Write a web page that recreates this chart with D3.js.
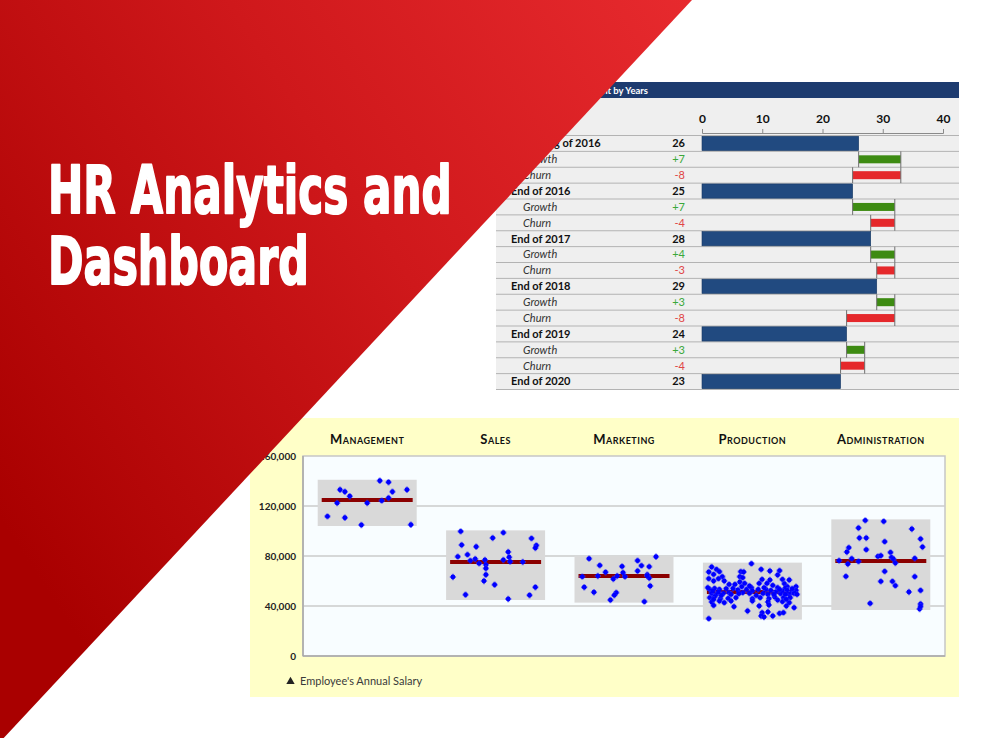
<!DOCTYPE html>
<html>
<head>
<meta charset="utf-8">
<script src="https://cdn.jsdelivr.net/npm/d3@7"></script>
<style>
  html, body { margin: 0; padding: 0; background: #fff; }
  svg { display: block; }
</style>
</head>
<body>
<svg id="slide" width="984" height="738"></svg>
<script>
// waterfall: headcount by years
const wfLabels = ["Beginning of 2016", "Growth", "Churn", "End of 2016", "Growth", "Churn",
  "End of 2017", "Growth", "Churn", "End of 2018", "Growth", "Churn",
  "End of 2019", "Growth", "Churn", "End of 2020"];
const wfValues = [26, 7, -8, 25, 7, -4, 28, 4, -3, 29, 3, -8, 24, 3, -4, 23];
const wfKinds = ["total", "growth", "churn", "total", "growth", "churn", "total", "growth", "churn",
  "total", "growth", "churn", "total", "growth", "churn", "total"];
const wfTicks = [0, 10, 20, 30, 40];

// salary strip chart: [jitter 0..1 inside the band, annual salary]
const departments = ["Management", "Sales", "Marketing", "Production", "Administration"];
const medians = [124800, 75200, 64000, 51200, 76000];
const salaryTicks = [0, 40000, 80000, 120000, 160000];

const management = [[0.63,140200],[0.72,139000],[0.22,133000],[0.27,131400],[0.32,127800],[0.76,131400],
  [0.91,133000],[0.72,126400],[0.65,124300],[0.19,122400],[0.50,122400],[0.09,111700],[0.27,110600],
  [0.44,104800],[0.95,105000]];
const sales = [[0.14,99700],[0.58,98700],[0.47,94400],[0.87,94100],[0.15,88800],[0.30,87400],[0.92,88500],
  [0.91,86400],[0.63,83200],[0.21,81100],[0.11,79500],[0.64,79000],[0.29,77600],[0.24,76300],[0.58,76800],
  [0.39,76800],[0.65,75500],[0.78,75200],[0.33,74100],[0.40,73000],[0.40,70100],[0.40,65000],[0.06,63200],
  [0.38,60000],[0.49,57000],[0.91,55000],[0.19,49000],[0.85,48600],[0.63,45600]];
const marketing = [[0.83,79400],[0.14,77900],[0.64,76300],[0.25,72500],[0.48,71700],[0.68,72300],[0.76,71500],
  [0.64,68000],[0.31,67000],[0.49,66700],[0.74,65000],[0.07,63500],[0.23,64000],[0.43,64000],[0.51,63500],
  [0.39,61600],[0.76,62400],[0.77,56000],[0.09,55000],[0.19,51000],[0.42,50700],[0.40,48600],[0.36,44800],
  [0.71,43500],[0.74,64000]];
const production = [[0.49,73900],[0.08,71200],[0.13,69300],[0.16,67500],[0.05,67200],[0.10,65300],[0.19,63500],
  [0.05,61900],[0.15,61900],[0.10,60000],[0.21,60000],[0.26,57300],[0.38,67500],[0.41,67200],[0.37,63500],
  [0.40,62700],[0.37,59200],[0.42,58100],[0.39,55500],[0.59,69300],[0.68,68000],[0.78,68300],[0.76,64800],
  [0.60,61300],[0.68,60800],[0.81,61300],[0.88,60800],[0.83,57900],[0.86,55500],[0.65,58100],[0.71,56500],
  [0.57,58100],[0.95,55500],[0.76,54700],[0.84,54400],
  [0.06,53300],[0.11,54100],[0.16,53300],[0.23,53900],[0.30,54100],[0.35,52800],[0.44,53300],[0.49,54700],
  [0.50,52000],[0.56,53300],[0.64,53300],[0.69,52500],[0.74,51200],[0.81,52000],[0.86,52500],[0.91,51200],
  [0.95,52500],[0.08,50100],[0.13,49300],[0.20,50100],[0.26,50700],[0.40,50700],[0.61,50100],[0.66,49300],
  [0.79,49900],[0.88,49300],[0.93,50100],
  [0.06,46700],[0.11,47500],[0.17,45900],[0.25,46100],[0.33,46700],[0.50,45900],[0.58,46700],[0.67,45900],
  [0.73,47200],[0.82,46700],[0.89,46700],[0.08,43200],[0.16,44000],[0.21,42700],[0.50,44000],[0.66,43200],
  [0.81,43500],[0.88,42700],[0.10,40500],[0.31,39500],[0.57,40000],[0.67,40800],[0.85,40000],[0.93,38700],
  [0.45,36000],[0.60,34700],[0.66,35200],[0.78,34100],[0.82,34700],[0.59,32000],[0.62,31200],[0.71,32000],
  [0.05,29900],
  [0.04,54700],[0.09,52000],[0.15,51200],[0.18,48500],[0.28,49300],[0.36,49900],[0.47,50100],[0.54,48500],
  [0.62,54700],[0.72,49300],[0.78,53300],[0.84,49300],[0.91,53900],[0.96,49300],[0.10,45300],[0.28,44000],
  [0.76,44800],[0.85,45300],[0.47,56000],[0.32,57300]];
const administration = [[0.34,108500],[0.53,107700],[0.27,102400],[0.82,101600],[0.28,94400],[0.35,94400],
  [0.91,93600],[0.54,91500],[0.17,86700],[0.93,87200],[0.35,85100],[0.15,83200],[0.60,82900],[0.47,79700],
  [0.50,80300],[0.61,78900],[0.20,77900],[0.85,78100],[0.07,76300],[0.27,75700],[0.63,77600],[0.65,74400],
  [0.16,73600],[0.54,67700],[0.14,63700],[0.85,63500],[0.50,59700],[0.62,59700],[0.65,56300],[0.79,51200],
  [0.91,52500],[0.39,42100],[0.91,41600],[0.90,37600],[0.91,39700]];
const salaries = [management, sales, marketing, production, administration];

const svg = d3.select("#slide");
const defs = svg.append("defs");
const uiFont = "Lato, 'Open Sans', sans-serif";

// ---------- waterfall panel ----------
const wf = svg.append("g");
wf.append("rect").attr("x", 496).attr("y", 82).attr("width", 463).attr("height", 308).attr("fill", "#efefef");
wf.append("rect").attr("x", 496).attr("y", 82).attr("width", 463).attr("height", 16).attr("fill", "#1d3b6f");
wf.append("text")
  .attr("x", 648).attr("y", 94).attr("text-anchor", "end")
  .attr("fill", "#fff").style("font", `bold 9.5px ${uiFont}`)
  .text("Headcount by Years");

const x = d3.scaleLinear().domain([0, 40]).range([702, 943]);
const row = d3.scaleBand().domain(d3.range(wfLabels.length)).range([135.5, 389.5]);
const bw = row.bandwidth();

let level = 0;
const rows = wfLabels.map((label, i) => {
  const v = wfValues[i], kind = wfKinds[i];
  let x0, x1;
  if (kind === "total") { level = v; x0 = 0; x1 = v; }
  else if (kind === "growth") { x0 = level; x1 = level + v; level += v; }
  else { x0 = level + v; x1 = level; level += v; }
  return { label, v, kind, x0, x1, i };
});

// row separators
wf.selectAll(".sep")
  .data(d3.range(wfLabels.length + 1))
  .enter().append("line")
  .attr("x1", 496).attr("x2", 959)
  .attr("y1", i => i < wfLabels.length ? row(i) : row(i - 1) + bw)
  .attr("y2", i => i < wfLabels.length ? row(i) : row(i - 1) + bw)
  .attr("stroke", "#b3b3b3").attr("stroke-width", 1);

// totals
wf.selectAll(".total")
  .data(rows.filter(d => d.kind === "total"))
  .enter().append("rect")
  .attr("x", d => x(d.x0)).attr("width", d => x(d.x1) - x(d.x0))
  .attr("y", d => row(d.i) + 0.8).attr("height", bw - 1.6)
  .attr("fill", "#214a80").attr("stroke", "#173762").attr("stroke-width", 0.6);

// growth / churn
const deltas = rows.filter(d => d.kind !== "total");
wf.selectAll(".delta")
  .data(deltas)
  .enter().append("rect")
  .attr("x", d => x(d.x0)).attr("width", d => x(d.x1) - x(d.x0))
  .attr("y", d => row(d.i) + bw / 2 - 4).attr("height", 8)
  .attr("fill", d => d.kind === "growth" ? "#3d8b12" : "#e5282b");
wf.selectAll(".conn")
  .data(deltas.flatMap(d => [{ i: d.i, v: d.x0 }, { i: d.i, v: d.x1 }]))
  .enter().append("line")
  .attr("x1", d => x(d.v)).attr("x2", d => x(d.v))
  .attr("y1", d => row(d.i)).attr("y2", d => row(d.i) + bw)
  .attr("stroke", "#6f6f6f").attr("stroke-width", 1);

// axis
const xAxis = wf.append("g")
  .attr("transform", "translate(0,133)")
  .call(d3.axisTop(x).tickValues(wfTicks).tickSize(4).tickPadding(6));
xAxis.select(".domain").attr("stroke", "#8a8a8a");
xAxis.selectAll(".tick line").attr("stroke", "#8a8a8a");
xAxis.selectAll("text").attr("fill", "#111").style("font", `bold 12px ${uiFont}`);

// labels and values
wf.selectAll(".lbl")
  .data(rows)
  .enter().append("text")
  .attr("x", d => d.kind === "total" ? 511 : 523)
  .attr("y", d => row(d.i) + bw / 2).attr("dy", "0.35em")
  .attr("fill", d => d.kind === "total" ? "#111" : "#333")
  .style("font", d => d.kind === "total" ? `bold 11px ${uiFont}` : `italic 11px ${uiFont}`)
  .text(d => d.label);
wf.selectAll(".val")
  .data(rows)
  .enter().append("text")
  .attr("x", 685).attr("text-anchor", "end")
  .attr("y", d => row(d.i) + bw / 2).attr("dy", "0.35em")
  .attr("fill", d => d.kind === "total" ? "#111" : d.kind === "growth" ? "#3aa83a" : "#e04545")
  .style("font", d => d.kind === "total" ? `bold 11px ${uiFont}` : `11px ${uiFont}`)
  .text(d => d.kind === "growth" ? "+" + d.v : d.v);

// ---------- salary strip chart ----------
const bc = svg.append("g");
bc.append("rect").attr("x", 250).attr("y", 418).attr("width", 709).attr("height", 279).attr("fill", "#ffffc8");

const y = d3.scaleLinear().domain([0, 160000]).range([656, 456]);
const xb = d3.scaleBand().domain(departments).range([303, 945]).paddingInner(0.229).paddingOuter(0.1145);

bc.append("rect").attr("x", 303).attr("y", y(160000)).attr("width", 642).attr("height", y(0) - y(160000))
  .attr("fill", "#f8fdff").attr("stroke", "#c6c6c6").attr("stroke-width", 1.5);
bc.selectAll(".grid")
  .data(salaryTicks.filter(t => t > 0 && t < 160000))
  .enter().append("line")
  .attr("x1", 303).attr("x2", 945).attr("y1", d => y(d)).attr("y2", d => y(d))
  .attr("stroke", "#cbcbcb").attr("stroke-width", 1.5);
bc.append("line").attr("x1", 303).attr("x2", 303).attr("y1", y(160000)).attr("y2", y(0))
  .attr("stroke", "#a9a9a9").attr("stroke-width", 1.5);
bc.append("line").attr("x1", 303).attr("x2", 945).attr("y1", y(0)).attr("y2", y(0))
  .attr("stroke", "#a9a9a9").attr("stroke-width", 1.5);

const yAxis = bc.append("g")
  .attr("transform", "translate(303,0)")
  .call(d3.axisLeft(y).tickValues(salaryTicks).tickFormat(d3.format(",")).tickSize(0).tickPadding(7));
yAxis.select(".domain").remove();
yAxis.selectAll("text").attr("fill", "#222").style("font", `bold 10px ${uiFont}`);

bc.selectAll(".dept")
  .data(departments)
  .enter().append("text")
  .attr("x", d => xb(d) + xb.bandwidth() / 2).attr("y", 444)
  .attr("text-anchor", "middle").attr("fill", "#111")
  .style("font", `small-caps bold 13px ${uiFont}`)
  .style("letter-spacing", "0.5px")
  .text(d => d);

departments.forEach((dep, k) => {
  const pts = salaries[k];
  const ext = d3.extent(pts, d => d[1]);
  const g = bc.append("g");
  g.append("rect")
    .attr("x", xb(dep)).attr("width", xb.bandwidth())
    .attr("y", y(ext[1]) - 1).attr("height", y(ext[0]) - y(ext[1]) + 2)
    .attr("fill", "#d9d9d9");
  g.append("rect")
    .attr("x", xb(dep) + 4).attr("width", xb.bandwidth() - 8)
    .attr("y", y(medians[k]) - 2).attr("height", 4)
    .attr("fill", "#8b0000");
  const jx = d3.scaleLinear().domain([0, 1]).range([xb(dep) + 1, xb(dep) + xb.bandwidth() - 1]);
  const dot = g.selectAll(".pt")
    .data(pts)
    .enter().append("g")
    .attr("transform", d => `translate(${jx(d[0])},${y(d[1])})`);
  dot.append("path").attr("d", d3.symbol(d3.symbolCross, 22)).attr("fill", "#3a3aff").attr("opacity", 0.6);
  dot.append("circle").attr("r", 2.4).attr("fill", "#0000ff");
});

bc.append("path")
  .attr("transform", "translate(290.5,681.5)")
  .attr("d", d3.symbol(d3.symbolTriangle, 30))
  .attr("fill", "#222");
bc.append("text")
  .attr("x", 300).attr("y", 685)
  .attr("fill", "#3a3a3a").style("font", `11px ${uiFont}`)
  .text("Employee's Annual Salary");

// ---------- red title banner ----------
const grad = defs.append("linearGradient").attr("id", "redGrad")
  .attr("x1", 0).attr("y1", 0.7).attr("x2", 1).attr("y2", 0);
grad.append("stop").attr("offset", 0).attr("stop-color", "#a90000");
grad.append("stop").attr("offset", 0.55).attr("stop-color", "#cf181b");
grad.append("stop").attr("offset", 1).attr("stop-color", "#e72a2e");

svg.append("path")
  .attr("d", "M0,0 L692,0 L0,742 Z")
  .attr("fill", "url(#redGrad)");

// condensed heavy title: measure natural width, then squeeze horizontally
const titleFont = "'DejaVu Sans', 'Liberation Sans', sans-serif";
const titleLines = [
  { text: "HR Analytics and", y: 213, w: 406 },
  { text: "Dashboard", y: 284, w: 263 }
];
svg.selectAll(".title")
  .data(titleLines)
  .enter().append("text")
  .attr("x", 0).attr("y", 0)
  .attr("fill", "#fff").attr("stroke", "#fff").attr("stroke-width", 2)
  .attr("stroke-linejoin", "round")
  .style("font", `bold 66px ${titleFont}`)
  .text(d => d.text)
  .each(function (d) {
    const len = this.getComputedTextLength();
    d3.select(this).attr("transform", `translate(48,${d.y}) scale(${(d.w - 2) / len},1)`);
  });
</script>
</body>
</html>
